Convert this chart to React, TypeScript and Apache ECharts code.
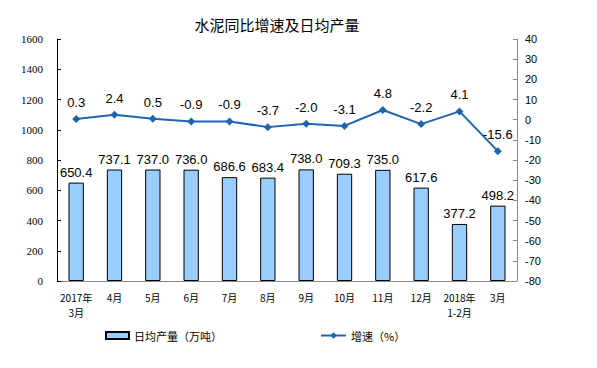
import React, { useEffect, useRef } from "react";
import * as echarts from "echarts";

const categories = ["2017年\n3月", "4月", "5月", "6月", "7月", "8月", "9月", "10月", "11月", "12月", "2018年\n1-2月", "3月"];
const output = [650.4, 737.1, 737.0, 736.0, 686.6, 683.4, 738.0, 709.3, 735.0, 617.6, 377.2, 498.2];
const growth = [0.3, 2.4, 0.5, -0.9, -0.9, -3.7, -2.0, -3.1, 4.8, -2.2, 4.1, -15.6];

export default function App() {
  const ref = useRef<HTMLDivElement>(null);
  useEffect(() => {
    if (!ref.current) return;
    const chart = echarts.init(ref.current, null, { renderer: "svg" });
    chart.setOption({
      animation: false,
      backgroundColor: "#fff",
      title: {
        text: "水泥同比增速及日均产量",
        left: 272,
        top: 12,
        textAlign: "center",
        textStyle: { fontSize: 15, fontWeight: "normal", color: "#000", fontFamily: "Noto Sans CJK SC" },
      },
      grid: { left: 57, right: 80, top: 39, bottom: 87 },
      legend: [
        {
          data: [{ name: "日均产量（万吨）", icon: "rect" }],
          left: 100,
          top: 325,
          itemWidth: 23,
          itemHeight: 7,
          textStyle: { fontSize: 11, color: "#000", fontFamily: "Noto Sans CJK SC" },
        },
        {
          data: ["增速（%）"],
          left: 315,
          top: 325,
          itemWidth: 25,
          itemHeight: 8,
          textStyle: { fontSize: 11, color: "#000", fontFamily: "Noto Sans CJK SC" },
        },
      ],
      xAxis: {
        type: "category",
        data: categories,
        axisLine: { lineStyle: { color: "#888" } },
        axisTick: { inside: true, length: 4, lineStyle: { color: "#888" } },
        axisLabel: { fontSize: 10, color: "#000", lineHeight: 15, margin: 9, interval: 0, fontFamily: "Noto Sans CJK SC" },
      },
      yAxis: [
        {
          type: "value",
          min: 0,
          max: 1600,
          interval: 200,
          splitLine: { show: false },
          axisLine: { show: true, lineStyle: { color: "#000" } },
          axisTick: { show: true, inside: true, length: 4, lineStyle: { color: "#000" } },
          axisLabel: { fontSize: 11, color: "#000", margin: 14, fontFamily: "Liberation Serif", formatter: (v: number) => String(v) },
        },
        {
          type: "value",
          min: -80,
          max: 40,
          interval: 10,
          splitLine: { show: false },
          axisLine: { show: true, lineStyle: { color: "#888" } },
          axisTick: { show: true, inside: true, length: 4, lineStyle: { color: "#888" } },
          axisLabel: { fontSize: 11, color: "#000", margin: 8, fontFamily: "Liberation Sans", formatter: (v: number) => String(v) },
        },
      ],
      series: [
        {
          name: "日均产量（万吨）",
          type: "bar",
          data: output,
          barWidth: "40%",
          itemStyle: { color: "#99CCFF", borderColor: "#000", borderWidth: 1 },
          label: {
            show: true,
            position: "top",
            distance: 4,
            fontSize: 13,
            color: "#000",
            fontFamily: "Liberation Sans",
            formatter: (p: any) => p.value.toFixed(1),
          },
        },
        {
          name: "增速（%）",
          type: "line",
          yAxisIndex: 1,
          data: growth,
          symbol: "diamond",
          symbolSize: 8,
          lineStyle: { color: "#1F64B0", width: 2 },
          itemStyle: { color: "#1F64B0" },
          label: {
            show: true,
            position: "top",
            distance: 6,
            fontSize: 13,
            color: "#000",
            fontFamily: "Liberation Sans",
            formatter: (p: any) => p.value.toFixed(1),
          },
        },
      ],
    });
    return () => chart.dispose();
  }, []);
  return <div ref={ref} style={{ width: 597, height: 368, position: "absolute", left: 0, top: 0 }} />;
}
